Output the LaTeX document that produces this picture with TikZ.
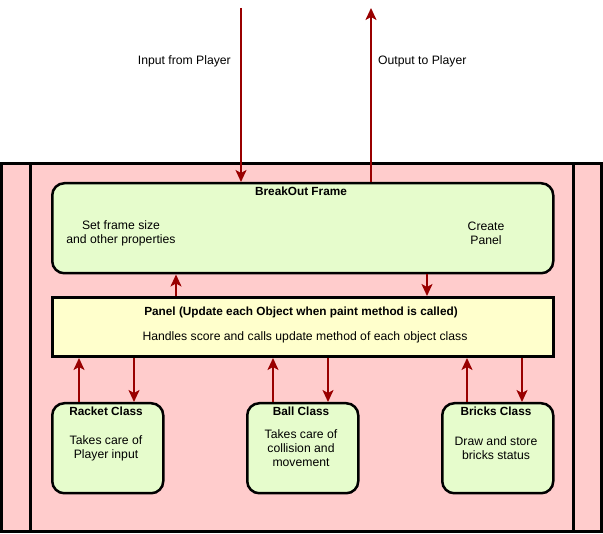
\documentclass[tikz,border=0pt]{standalone}
\usepackage{fontspec}
\setmainfont{Liberation Sans}
\usetikzlibrary{arrows.meta,positioning}
\definecolor{bgpink}{HTML}{FFCCCC}
\definecolor{boxgreen}{HTML}{E6FCCC}
\definecolor{boxyellow}{HTML}{FFFFCC}
\definecolor{arrowred}{HTML}{990000}

\begin{document}
\begin{tikzpicture}
 [x=1pt,y=-1pt,
  frame box/.style={draw,line width=2.5pt,rounded corners=12pt,fill=boxgreen,inner sep=0pt,anchor=north west},
  panel box/.style={draw,line width=3pt,fill=boxyellow,inner sep=0pt,anchor=north west},
  class box/.style={draw,line width=2.5pt,rounded corners=12pt,fill=boxgreen,inner sep=0pt,anchor=north west,
                    minimum width=111pt,minimum height=90pt},
  title text/.style={font=\bfseries\fontsize{11.8}{14}\selectfont,inner sep=0pt},
  body text/.style={font=\fontsize{12.2}{14}\selectfont,align=center,inner sep=0pt},
  flow/.style={draw=arrowred,line width=1.8pt,-{Stealth[length=12pt,width=11pt,inset=3pt]}}]

\useasboundingbox (0,0) rectangle (603,534);

% outer application area
\fill[bgpink] (1.5,163.5) rectangle (601.5,532);
\draw[line width=3pt] (1.5,163.5) rectangle (601.5,532);
\draw[line width=3pt] (30,163.5) -- (30,532);
\draw[line width=3pt] (573,163.5) -- (573,532);

\node[frame box,minimum width=501pt,minimum height=90pt] (frame) at (51,182) {};
\node[panel box,minimum width=501pt,minimum height=59pt] (panel) at (51,296) {};
\node[class box] (racket) at (51,402) {};
\node[class box] (ball) at (246,402) {};
\node[class box] (bricks) at (441,402) {};

% texts
\node[body text,anchor=east] (input) at (231,61) {Input from Player};
\node[body text,anchor=west] (output) at (378,61) {Output to Player};

\node[title text] (frametitle) at (301,191) {BreakOut Frame};
\node[body text] (framesize) at (121,233) {Set frame size\\and other properties};
\node[body text] (createpanel) at (486,233) {Create\\Panel};

\node[title text] (paneltitle) at (301,312) {Panel (Update each Object when paint method is called)};
\node[body text] (panelbody) at (305,337) {Handles score and calls update method of each object class};

\node[title text] (rackettitle) at (106,411) {Racket Class};
\node[body text] (racketbody) at (106,448) {Takes care of\\Player input};
\node[title text] (balltitle) at (301,411) {Ball Class};
\node[body text] (ballbody) at (301,448) {Takes care of\\collision and\\movement};
\node[title text] (brickstitle) at (496,411) {Bricks Class};
\node[body text] (bricksbody) at (496,448) {Draw and store\\bricks status};

% arrows
\coordinate (in top) at (241,8);
\coordinate (out top) at (371,8);

\path
  (in top) edge [flow] (241,0 |- frame.north)
  (371,0 |- frame.north) edge [flow] (out top)

  (176,0 |- panel.north) edge [flow] (176,0 |- frame.south)
  (427,0 |- frame.south) edge [flow] (427,0 |- panel.north)

  (79,0 |- racket.north) edge [flow] (79,0 |- panel.south)
  (134,0 |- panel.south) edge [flow] (134,0 |- racket.north)
  (273,0 |- ball.north) edge [flow] (273,0 |- panel.south)
  (328,0 |- panel.south) edge [flow] (328,0 |- ball.north)
  (467,0 |- bricks.north) edge [flow] (467,0 |- panel.south)
  (522,0 |- panel.south) edge [flow] (522,0 |- bricks.north);

\end{tikzpicture}
\end{document}
